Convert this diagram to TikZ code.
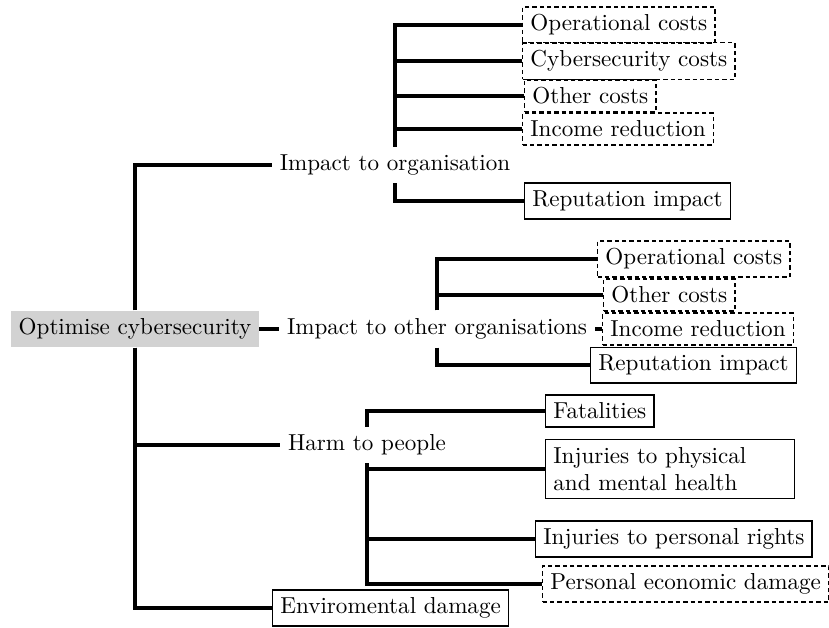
\documentclass[tikz,border=0pt]{standalone}
\usepackage{tikz}
\tikzset{every path/.style={black}, link/.style={line width=1.6pt},
         box/.style={draw, semithick}, dbox/.style={draw, semithick, dash pattern=on 1.9pt off 1.3pt},
         goal/.style={fill=gray!35}}

\begin{document}
\begin{tikzpicture}[x=0.433pt,y=-0.433pt]
   \useasboundingbox (0,0) rectangle (829,627);
   \node[goal] (opt) at (135,329) {Optimise cybersecurity};

   \node (org)  at (395,165) {Impact to organisation};
   \node (oth)  at (437,329) {Impact to other organisations};
   \node (harm) at (367,445) {Harm to people};
   \node[box,anchor=west] (env) at (272,608) {Enviromental damage};

   \node[dbox,anchor=west] (orgop)  at (522, 25) {Operational costs};
   \node[dbox,anchor=west] (orgcy)  at (522, 61) {Cybersecurity costs};
   \node[dbox,anchor=west] (orgot)  at (524, 96) {Other costs};
   \node[dbox,anchor=west] (orgin)  at (522,129) {Income reduction};
   \node[box, anchor=west] (orgrep) at (524,201) {Reputation impact};

   \node[dbox,anchor=west] (othop)  at (597,259) {Operational costs};
   \node[dbox,anchor=west] (othot)  at (603,295) {Other costs};
   \node[dbox,anchor=west] (othin)  at (602,329) {Income reduction};
   \node[box, anchor=west] (othrep) at (590,365) {Reputation impact};

   \node[box, anchor=west] (fat)  at (545,411) {Fatalities};
   \node[box, anchor=west, text width=3.55cm, align=left] (inj) at (545,469)
        {Injuries to physical\\and mental health};
   \node[box, anchor=west] (rig)  at (535,539) {Injuries to personal rights};
   \node[dbox,anchor=west] (eco)  at (542,584) {Personal economic damage};

   % first level
   \draw[link] (opt.north) |- (org.west);
   \draw[link] (opt.east)  -- (oth.west);
   \draw[link] (opt.south) |- (harm.west);
   \draw[link] (opt.south) |- (env.west);

   % impact to organisation
   \draw[link] (org.north) |- (orgop.west);
   \draw[link] (org.north) |- (orgcy.west);
   \draw[link] (org.north) |- (orgot.west);
   \draw[link] (org.north) |- (orgin.west);
   \draw[link] (org.south) |- (orgrep.west);

   % impact to other organisations
   \draw[link] (oth.north) |- (othop.west);
   \draw[link] (oth.north) |- (othot.west);
   \draw[link] (oth.east)  -- (othin.west);
   \draw[link] (oth.south) |- (othrep.west);

   % harm to people
   \draw[link] (harm.north) |- (fat.west);
   \draw[link] (harm.south) |- (inj.west);
   \draw[link] (harm.south) |- (rig.west);
   \draw[link] (harm.south) |- (eco.west);
\end{tikzpicture}
\end{document}
